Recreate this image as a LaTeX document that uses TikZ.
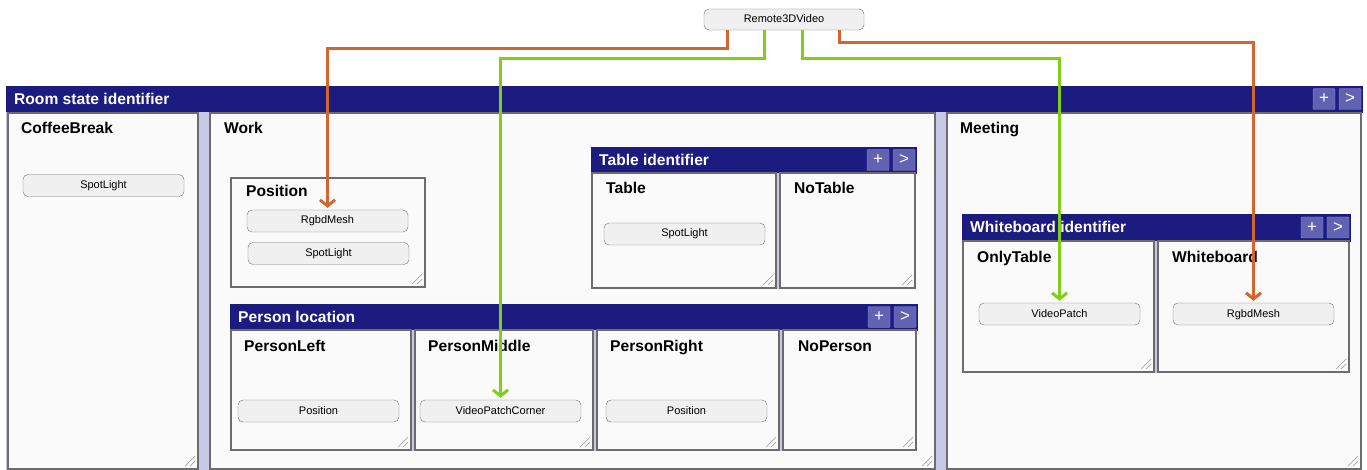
\documentclass[tikz,border=0pt]{standalone}
\usepackage{fontspec}
\setmainfont{Liberation Sans}
\usetikzlibrary{arrows.meta}

\definecolor{navy}{RGB}{27,27,128}
\definecolor{btnblue}{RGB}{98,98,178}
\definecolor{btnedge}{RGB}{140,140,205}
\definecolor{gutter}{RGB}{200,200,228}
\definecolor{panelbg}{RGB}{250,250,250}
\definecolor{pillbg}{RGB}{240,240,240}
\definecolor{wireorange}{RGB}{210,102,48}
\definecolor{wiregreen}{RGB}{128,206,26}

\tikzset{
  hdr/.style={fill=navy, draw=navy},
  hdrtext/.style={anchor=base west, inner sep=0pt, text=white,
    font=\fontsize{15.6}{15.6}\selectfont\bfseries},
  hdrbtn/.style={fill=btnblue, draw=btnedge, rounded corners=1pt, text=white,
    minimum width=22pt, minimum height=21pt, inner sep=0pt,
    font=\fontsize{17}{17}\selectfont},
  panel/.style={fill=panelbg, draw=gray!85!black, line width=1.3pt},
  statename/.style={anchor=base west, inner sep=0pt,
    font=\fontsize{15.6}{15.6}\selectfont\bfseries},
  pill/.style={draw=gray!90!black, fill=pillbg, rounded corners=5pt,
    minimum width=161pt, minimum height=22pt, inner sep=0pt,
    text height=8pt, text depth=2pt, font=\fontsize{11}{11}\selectfont},
  grip/.style={gray!70, line width=0.7pt},
  owire/.style={wireorange, line width=3pt, shorten >=2pt,
    -{Straight Barb[length=6pt,width=15pt]}},
  gwire/.style={wiregreen, line width=3pt, shorten >=2pt,
    -{Straight Barb[length=6pt,width=15pt]}},
}

% header bar: left, top, right, bottom, name, title
\newcommand{\idheader}[6]{
  \draw[hdr] (#1,#2) rectangle (#3,#4);
  \node[hdrtext] (#5) at (#1+8,#2/2+#4/2+5.5) {#6};
  \node[hdrbtn] (#5plus) at (#3-38,#2/2+#4/2) {+};
  \node[hdrbtn] (#5next) at (#3-12,#2/2+#4/2) {>};
}
% resize grip in the lower right corner of a panel
\newcommand{\grip}[2]{
  \draw[grip] (#1-13,#2-3) -- (#1-3,#2-13) (#1-8,#2-3) -- (#1-3,#2-8);
}

\begin{document}
\begin{tikzpicture}[x=1pt, y=-1pt]
  \useasboundingbox[fill=white] (0,0) rectangle (1367,470);

  % room states
  \idheader{6}{86}{1362}{112}{room}{Room state identifier}
  \fill[gutter] (6,112) rectangle (1362,470);
  \draw[panel] (8,113) rectangle (198,469);
  \draw[panel] (210,113) rectangle (935,469);
  \draw[panel] (947,113) rectangle (1361,469);
  \grip{198}{469} \grip{935}{469} \grip{1361}{469}
  \node[statename] (coffee) at (21,133.5) {CoffeeBreak};
  \node[statename] (work) at (224,133.5) {Work};
  \node[statename] (meeting) at (960,133.5) {Meeting};
  \node[pill] (spotcoffee) at (103.5,185.5) {SpotLight};

  % position block inside Work
  \draw[panel] (231,178) rectangle (425,287);
  \grip{425}{287}
  \node[statename] (position) at (246,196.5) {Position};
  \node[pill] (meshwork) at (327.5,221) {RgbdMesh};
  \node[pill] (spotwork) at (328.5,253.5) {SpotLight};

  % table
  \idheader{591}{147}{916}{173}{table}{Table identifier}
  \fill[gutter] (591,173) rectangle (916,289);
  \draw[panel] (592,173) rectangle (776,288);
  \draw[panel] (780,173) rectangle (915,288);
  \grip{776}{288} \grip{915}{288}
  \node[statename] (tbl) at (606,193.5) {Table};
  \node[statename] (notbl) at (794,193.5) {NoTable};
  \node[pill] (spottable) at (684.5,234) {SpotLight};

  % person location
  \idheader{230}{304}{917}{330}{person}{Person location}
  \fill[gutter] (230,330) rectangle (917,451);
  \draw[panel] (231,330) rectangle (411,450);
  \draw[panel] (415,330) rectangle (593,450);
  \draw[panel] (597,330) rectangle (779,450);
  \draw[panel] (783,330) rectangle (916,450);
  \grip{411}{450} \grip{593}{450} \grip{779}{450} \grip{916}{450}
  \node[statename] (pleft) at (244,351.5) {PersonLeft};
  \node[statename] (pmiddle) at (428,351.5) {PersonMiddle};
  \node[statename] (pright) at (610,351.5) {PersonRight};
  \node[statename] (pnone) at (798,351.5) {NoPerson};
  \node[pill] (posleft) at (318.5,411) {Position};
  \node[pill] (corner) at (500.5,411) {VideoPatchCorner};
  \node[pill] (posright) at (686.5,411) {Position};

  % whiteboard
  \idheader{962}{214}{1350}{241}{board}{Whiteboard identifier}
  \fill[gutter] (962,241) rectangle (1350,373);
  \draw[panel] (963,241) rectangle (1154,372);
  \draw[panel] (1158,241) rectangle (1349,372);
  \grip{1154}{372} \grip{1349}{372}
  \node[statename] (onlytbl) at (977,262.5) {OnlyTable};
  \node[statename] (wboard) at (1172,262.5) {Whiteboard};
  \node[pill] (patch) at (1059.5,314) {VideoPatch};
  \node[pill] (meshboard) at (1253.5,314) {RgbdMesh};

  % source and its wires
  \node[pill, minimum width=160pt, minimum height=21pt] (remote) at (784,19.5) {Remote3DVideo};
  \draw[owire] ([xshift=24pt]remote.south west) -- ++(0,18) -| (meshwork.north);
  \draw[gwire] ([xshift=61pt]remote.south west) -- ++(0,28) -| (corner.north);
  \draw[gwire] ([xshift=99pt]remote.south west) -- ++(0,28) -| (patch.north);
  \draw[owire] ([xshift=136pt]remote.south west) -- ++(0,12) -| (meshboard.north);
\end{tikzpicture}
\end{document}
